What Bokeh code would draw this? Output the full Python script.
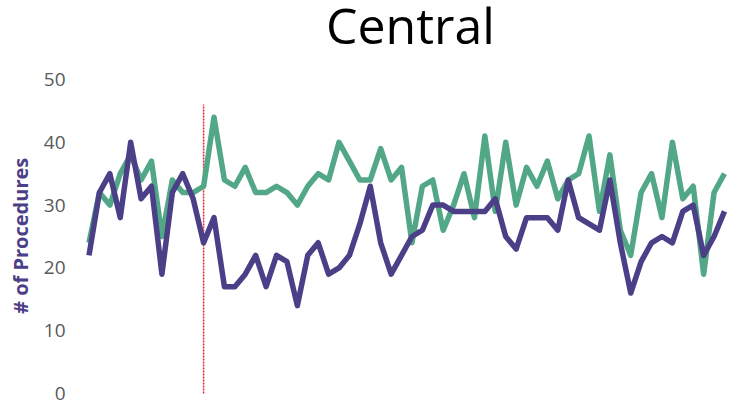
import math
from bokeh.plotting import figure
from bokeh.models import Range1d, Label
from bokeh.embed import file_html
from bokeh.resources import INLINE

# ---- data ----
green_values = [24, 32, 30, 35, 38, 34, 37, 25, 34, 32,
                32, 33, 44, 34, 33, 36, 32, 32, 33, 32,
                30, 33, 35, 34, 40, 37, 34, 34, 39, 34,
                36, 24, 33, 34, 26, 30, 35, 28, 41, 29,
                40, 30, 36, 33, 37, 31, 34, 35, 41, 29,
                38, 26, 22, 32, 35, 28, 40, 31, 33, 19,
                32, 35]
purple_values = [22, 32, 35, 28, 40, 31, 33, 19, 32, 35,
                 31, 24, 28, 17, 17, 19, 22, 17, 22, 21,
                 14, 22, 24, 19, 20, 22, 27, 33, 24, 19,
                 22, 25, 26, 30, 30, 29, 29, 29, 29, 31,
                 25, 23, 28, 28, 28, 26, 34, 28, 27, 26,
                 34, 24, 16, 21, 24, 25, 24, 29, 30, 22,
                 25, 29]
periods = list(range(len(green_values)))
marker_period = 11
marker_top = 46
y_ticks = [0, 10, 20, 30, 40, 50]
title_text = "Central"
y_label_text = "# of Procedures"

GREEN = "#52A886"
PURPLE = "#4B4088"
GREY = "#595959"
FONT = "Open Sans"

# frame covers the whole canvas; axis is pinned at the plot's left edge
p = figure(width=737, height=406, output_backend="svg", toolbar_location=None,
           x_range=Range1d(-8.495, 62.25), y_range=Range1d(-2.07, 62.58),
           min_border_left=0, min_border_right=0, min_border_top=0,
           min_border_bottom=0, x_axis_location=None)
p.outline_line_color = None
p.grid.visible = False
p.background_fill_color = "white"
p.border_fill_color = "white"

ax = p.yaxis[0]
ax.fixed_location = -0.24
ax.ticker = y_ticks
ax.axis_line_color = None
ax.major_tick_line_color = None
ax.minor_tick_line_color = None
ax.major_tick_out = 0
ax.major_tick_in = 0
ax.major_label_standoff = 21
ax.major_label_text_font = FONT
ax.major_label_text_font_size = "19px"
ax.major_label_text_color = GREY

p.segment(x0=[marker_period], y0=[0], x1=[marker_period], y1=[marker_top],
          line_color="#E8242A", line_width=1.5, line_dash="2 1")

p.line(periods, green_values, line_color=GREEN, line_width=5.5, line_join="round")
p.line(periods, purple_values, line_color=PURPLE, line_width=5.5, line_join="round")

p.add_layout(Label(x=30.86, y=58.6, text=title_text, text_font=FONT,
                   text_font_size="50px", text_color="black",
                   text_align="center", text_baseline="alphabetic"))
p.add_layout(Label(x=-6.575, y=25.1, text=y_label_text, text_font=FONT,
                   text_font_size="20px", text_font_style="bold", text_color=PURPLE,
                   text_align="center", text_baseline="middle", angle=math.pi / 2))

open("out.html", "w").write(file_html(p, INLINE))
